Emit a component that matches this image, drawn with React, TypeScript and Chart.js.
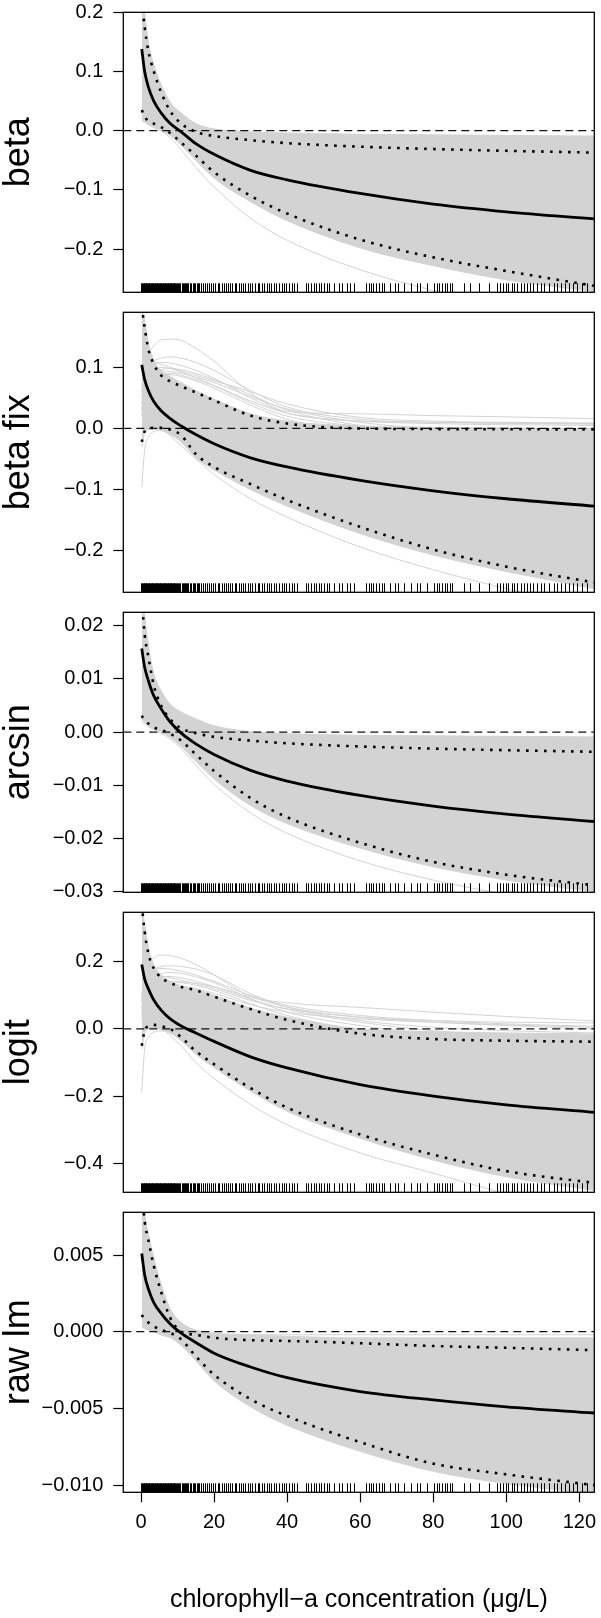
import React, { useEffect, useRef } from 'react';
import { Chart, registerables } from 'chart.js';

Chart.register(...registerables);

const FONT = "'Liberation Sans', Arial, Helvetica, sans-serif";
const GRAY = '#d3d3d3';

// x positions (chlorophyll-a, µg/L) at which every curve is read
const KNOTS = [0.2, 1, 2, 3.5, 5.5, 8, 11, 15, 20, 30, 40, 60, 80, 100, 124];
const X_MIN = -4.85;
const X_MAX = 124.1;
const X_TICKS = [0, 20, 40, 60, 80, 100, 120];

// rug: observed chlorophyll-a values
const RUG = [
  0.1, 0.3, 0.5, 0.7, 0.9, 1.1, 1.3, 1.5, 1.7, 1.9, 2.1, 2.3, 2.5, 2.7, 2.9, 3.1, 3.3, 3.5, 3.7, 3.9,
  4.1, 4.3, 4.5, 4.7, 4.9, 5.1, 5.3, 5.5, 5.7, 5.9, 6.1, 6.3, 6.5, 6.7, 6.9, 7.1, 7.3, 7.5, 7.7, 7.9,
  8.1, 8.3, 8.5, 8.7, 8.9, 9.1, 9.3, 9.6, 9.9, 10.2, 10.4, 10.8, 11.1, 11.5, 11.7, 12.0, 12.4, 12.6,
  13.0, 13.3, 13.7, 14.1, 14.5, 14.9, 15.2, 15.6, 16.0, 16.4, 17.0, 17.6, 18.1, 18.5, 19.2, 19.8,
  20.3, 21.0, 21.4, 22.1, 22.6, 23.3, 23.9, 24.4, 25.0, 25.7, 26.1, 26.8, 27.5, 28.0, 28.6, 29.3,
  29.9, 30.4, 31.2, 31.9, 32.3, 33.0, 33.8, 34.4, 35.1, 35.6, 36.4, 37.0, 37.7, 38.5, 39.2, 39.8,
  40.6, 41.3, 42.0, 42.6, 45.1, 45.8, 46.5, 47.3, 47.9, 48.6, 49.3, 50.0, 51.0, 51.4, 52.8, 54.2,
  55.0, 56.4, 57.1, 58.3, 61.5, 62.3, 63.0, 63.6, 64.4, 65.2, 66.0, 66.5, 68.1, 69.5, 70.4, 71.9,
  73.8, 75.6, 76.5, 78.3, 80.2, 80.9, 81.6, 82.3, 83.1, 83.8, 84.5, 85.2, 88.4, 90.2, 92.5, 95.2,
  97.5, 98.2, 99.1, 99.8, 100.6, 101.5, 102.2, 103.0, 103.9, 104.8, 105.7, 106.6, 107.4, 108.5,
  109.4, 110.3, 111.6, 113.0, 113.9, 115.0, 116.1, 117.2, 118.3, 119.4, 120.8, 122.2, 124.0,
];

// ---- beta ----
const BETA_MEAN = [0.138, 0.1, 0.074, 0.05, 0.03, 0.012, -0.002, -0.022, -0.04, -0.067, -0.083, -0.106, -0.124, -0.137, -0.149];
const BETA_UPPER = [0.22, 0.175, 0.135, 0.1, 0.065, 0.033, 0.012, -0.002, -0.009, -0.016, -0.021, -0.027, -0.031, -0.034, -0.037];
const BETA_LOWER = [0.035, 0.024, 0.016, 0.012, 0.006, -0.004, -0.02, -0.042, -0.07, -0.11, -0.14, -0.184, -0.214, -0.237, -0.262];
const BETA_BAND_HI = [0.25, 0.2, 0.15, 0.112, 0.078, 0.048, 0.03, 0.012, 0.003, -0.002, -0.004, -0.006, -0.007, -0.008, -0.009];
const BETA_BAND_LO = [0.018, 0.014, 0.01, 0.005, 0.0, -0.008, -0.025, -0.05, -0.08, -0.12, -0.152, -0.198, -0.228, -0.252, -0.272];
const BETA_GRAY_LINES = [
  [0.02, 0.016, 0.012, 0.006, 0.0, -0.012, -0.032, -0.062, -0.095, -0.148, -0.185, -0.235, -0.27, -0.3, -0.33],
];

// ---- beta fix ----
const BETAFIX_MEAN = [0.104, 0.08, 0.062, 0.044, 0.029, 0.016, 0.004, -0.01, -0.025, -0.048, -0.063, -0.085, -0.102, -0.115, -0.127];
const BETAFIX_UPPER = [0.2, 0.165, 0.13, 0.105, 0.087, 0.077, 0.069, 0.059, 0.046, 0.021, 0.008, 0.0, -0.001, -0.0013, -0.0016];
const BETAFIX_LOWER = [-0.022, -0.005, 0.0, 0.001, 0.001, -0.002, -0.011, -0.042, -0.063, -0.091, -0.117, -0.161, -0.198, -0.226, -0.252];
const BETAFIX_BAND_HI = [0.2, 0.175, 0.14, 0.112, 0.095, 0.085, 0.075, 0.062, 0.048, 0.024, 0.012, 0.004, 0.002, 0.001, 0.0];
const BETAFIX_BAND_LO = [-0.03, -0.008, -0.002, -0.001, -0.003, -0.01, -0.022, -0.048, -0.068, -0.1, -0.127, -0.172, -0.207, -0.234, -0.262];
const BETAFIX_GRAY_LINES = [
  [0.06, 0.1, 0.12, 0.135, 0.145, 0.146, 0.144, 0.131, 0.11, 0.058, 0.028, 0.024, 0.021, 0.019, 0.016],
  [0.03, 0.07, 0.095, 0.105, 0.108, 0.107, 0.103, 0.095, 0.082, 0.05, 0.025, 0.012, 0.008, 0.006, 0.005],
  [0.04, 0.075, 0.09, 0.098, 0.1, 0.098, 0.092, 0.083, 0.07, 0.042, 0.02, 0.004, -0.002, -0.006, -0.01],
  [0.02, 0.05, 0.07, 0.082, 0.088, 0.088, 0.085, 0.078, 0.066, 0.038, 0.015, -0.01, -0.025, -0.037, -0.048],
  [0.06, 0.08, 0.088, 0.092, 0.094, 0.093, 0.09, 0.084, 0.075, 0.052, 0.032, 0.01, 0.0, -0.004, -0.008],
  [0.05, 0.085, 0.1, 0.11, 0.115, 0.117, 0.115, 0.108, 0.095, 0.062, 0.035, 0.015, 0.01, 0.008, 0.007],
  [0.07, 0.095, 0.105, 0.108, 0.105, 0.1, 0.094, 0.087, 0.078, 0.06, 0.04, 0.018, 0.012, 0.01, 0.009],
  [0.03, 0.06, 0.078, 0.09, 0.096, 0.098, 0.096, 0.09, 0.08, 0.055, 0.03, 0.005, -0.005, -0.012, -0.018],
  [0.04, 0.065, 0.08, 0.087, 0.09, 0.09, 0.087, 0.08, 0.07, 0.045, 0.025, 0.012, 0.01, 0.009, 0.008],
  [-0.096, -0.035, -0.015, -0.005, -0.003, -0.008, -0.018, -0.035, -0.055, -0.085, -0.105, -0.14, -0.165, -0.185, -0.2],
  [0.03, 0.025, 0.02, 0.012, 0.003, -0.012, -0.028, -0.05, -0.075, -0.115, -0.145, -0.194, -0.231, -0.262, -0.295],
];

// ---- arcsin ----
const ARCSIN_MEAN = [0.0157, 0.0122, 0.0097, 0.0068, 0.0044, 0.0019, -0.0002, -0.0022, -0.0042, -0.0072, -0.0092, -0.0119, -0.0139, -0.0154, -0.0168];
const ARCSIN_UPPER = [0.025, 0.0183, 0.0142, 0.0088, 0.005, 0.0024, 0.0007, -0.0002, -0.0009, -0.0016, -0.0021, -0.0027, -0.0031, -0.0034, -0.0037];
const ARCSIN_LOWER = [0.0031, 0.0022, 0.0016, 0.0009, 0.0004, -0.0003, -0.0016, -0.0042, -0.0073, -0.0124, -0.016, -0.0208, -0.0244, -0.0268, -0.0288];
const ARCSIN_BAND_HI = [0.03, 0.022, 0.0165, 0.011, 0.0078, 0.0052, 0.0038, 0.0025, 0.0012, 0.0001, -0.0003, -0.0006, -0.0007, -0.0008, -0.0009];
const ARCSIN_BAND_LO = [0.0025, 0.0018, 0.0012, 0.0006, 0.0, -0.001, -0.0027, -0.0055, -0.0088, -0.0138, -0.0172, -0.0218, -0.0253, -0.0278, -0.03];
const ARCSIN_GRAY_LINES = [
  [0.002, 0.0015, 0.001, 0.0004, -0.0002, -0.0013, -0.0031, -0.0062, -0.0098, -0.0152, -0.019, -0.0242, -0.0278, -0.0305, -0.033],
];

// ---- logit ----
const LOGIT_MEAN = [0.192, 0.148, 0.12, 0.086, 0.056, 0.03, 0.009, -0.012, -0.037, -0.083, -0.116, -0.166, -0.2, -0.226, -0.248];
const LOGIT_UPPER = [0.37, 0.29, 0.225, 0.18, 0.153, 0.137, 0.125, 0.115, 0.096, 0.059, 0.027, -0.014, -0.03, -0.035, -0.038];
const LOGIT_LOWER = [-0.05, -0.005, 0.008, 0.012, 0.008, 0.0, -0.025, -0.066, -0.105, -0.176, -0.234, -0.314, -0.374, -0.423, -0.458];
const LOGIT_BAND_HI = [0.37, 0.31, 0.245, 0.19, 0.16, 0.142, 0.128, 0.118, 0.1, 0.062, 0.035, 0.0, -0.008, -0.012, -0.015];
const LOGIT_BAND_LO = [-0.06, -0.012, 0.0, 0.002, -0.002, -0.012, -0.035, -0.075, -0.115, -0.185, -0.245, -0.325, -0.39, -0.44, -0.48];
const LOGIT_GRAY_LINES = [
  [0.1, 0.16, 0.195, 0.212, 0.22, 0.218, 0.21, 0.192, 0.161, 0.097, 0.078, 0.064, 0.05, 0.037, 0.024],
  [0.09, 0.14, 0.165, 0.178, 0.185, 0.188, 0.186, 0.178, 0.16, 0.105, 0.065, 0.025, 0.005, -0.005, -0.012],
  [0.06, 0.11, 0.14, 0.157, 0.165, 0.168, 0.165, 0.155, 0.138, 0.09, 0.05, 0.01, -0.015, -0.03, -0.045],
  [0.05, 0.09, 0.115, 0.13, 0.138, 0.14, 0.138, 0.13, 0.115, 0.075, 0.04, -0.005, -0.04, -0.065, -0.09],
  [0.03, 0.07, 0.1, 0.118, 0.128, 0.13, 0.127, 0.12, 0.106, 0.072, 0.05, 0.03, 0.02, 0.012, 0.005],
  [0.08, 0.13, 0.16, 0.175, 0.18, 0.178, 0.172, 0.16, 0.142, 0.1, 0.07, 0.04, 0.025, 0.015, 0.008],
  [0.06, 0.1, 0.13, 0.148, 0.155, 0.156, 0.152, 0.142, 0.126, 0.088, 0.058, 0.02, -0.005, -0.02, -0.035],
  [0.1, 0.14, 0.155, 0.16, 0.158, 0.152, 0.145, 0.135, 0.12, 0.085, 0.06, 0.035, 0.02, 0.01, 0.0],
  [0.04, 0.08, 0.11, 0.125, 0.135, 0.14, 0.14, 0.136, 0.125, 0.095, 0.065, 0.035, 0.025, 0.02, 0.018],
  [-0.186, -0.06, -0.025, -0.01, -0.006, -0.012, -0.03, -0.06, -0.1, -0.16, -0.2, -0.26, -0.3, -0.33, -0.36],
  [0.05, 0.04, 0.03, 0.02, 0.005, -0.02, -0.05, -0.1, -0.147, -0.225, -0.285, -0.369, -0.429, -0.49, -0.55],
];

// ---- raw lm ----
const RAW_MEAN = [0.0051, 0.0037, 0.0028, 0.0019, 0.0012, 0.0005, -0.0001, -0.0007, -0.0014, -0.0023, -0.003, -0.0039, -0.00445, -0.0049, -0.0053];
const RAW_UPPER = [0.0095, 0.0072, 0.006, 0.0043, 0.0026, 0.0009, 0.0, -0.0002, -0.0004, -0.00055, -0.0006, -0.00075, -0.00093, -0.00105, -0.0012];
const RAW_LOWER = [0.0011, 0.0008, 0.0006, 0.00035, 0.00012, -0.00008, -0.0005, -0.0016, -0.0028, -0.0044, -0.0055, -0.0072, -0.0086, -0.0093, -0.01];
const RAW_BAND_HI = [0.0105, 0.0078, 0.0064, 0.0048, 0.0031, 0.0015, 0.0006, 0.0001, -0.0001, -0.0002, -0.0003, -0.0004, -0.0004, -0.0004, -0.0004];
const RAW_BAND_LO = [0.0003, 0.0002, 0.0001, 0.0, -0.0002, -0.0004, -0.0009, -0.0019, -0.0032, -0.0049, -0.0061, -0.0078, -0.0091, -0.0099, -0.0106];
const RAW_GRAY_LINES = [
  [0.0004, 0.0003, 0.0002, 0.0, -0.0002, -0.0003, -0.0003, -0.0002, -0.0002, -0.0002, -0.0002, -0.0002, -0.0002, -0.0002, -0.0002],
];

const PANELS = [
  { label: 'beta', yMin: -0.273, yMax: 0.2, yTicks: [-0.2, -0.1, 0, 0.1, 0.2], dec: 1,
    mean: BETA_MEAN, upper: BETA_UPPER, lower: BETA_LOWER, hi: BETA_BAND_HI, lo: BETA_BAND_LO, extra: BETA_GRAY_LINES },
  { label: 'beta fix', yMin: -0.268, yMax: 0.19, yTicks: [-0.2, -0.1, 0, 0.1], dec: 1,
    mean: BETAFIX_MEAN, upper: BETAFIX_UPPER, lower: BETAFIX_LOWER, hi: BETAFIX_BAND_HI, lo: BETAFIX_BAND_LO, extra: BETAFIX_GRAY_LINES },
  { label: 'arcsin', yMin: -0.03011, yMax: 0.02252, yTicks: [-0.03, -0.02, -0.01, 0, 0.01, 0.02], dec: 2,
    mean: ARCSIN_MEAN, upper: ARCSIN_UPPER, lower: ARCSIN_LOWER, hi: ARCSIN_BAND_HI, lo: ARCSIN_BAND_LO, extra: ARCSIN_GRAY_LINES },
  { label: 'logit', yMin: -0.486, yMax: 0.347, yTicks: [-0.4, -0.2, 0, 0.2], dec: 1,
    mean: LOGIT_MEAN, upper: LOGIT_UPPER, lower: LOGIT_LOWER, hi: LOGIT_BAND_HI, lo: LOGIT_BAND_LO, extra: LOGIT_GRAY_LINES },
  { label: 'raw lm', yMin: -0.010469, yMax: 0.007784, yTicks: [-0.01, -0.005, 0, 0.005], dec: 3,
    mean: RAW_MEAN, upper: RAW_UPPER, lower: RAW_LOWER, hi: RAW_BAND_HI, lo: RAW_BAND_LO, extra: RAW_GRAY_LINES },
];

const fmt = (v: number, d: number) => (Math.abs(v) < 1e-12 ? (0).toFixed(d) : v.toFixed(d).replace('-', '\u2212'));

const boxAndRug = {
  id: 'boxAndRug',
  afterDatasetsDraw(chart: any) {
    const { ctx, chartArea: a, scales } = chart;
    ctx.save();
    ctx.beginPath();
    ctx.rect(a.left, a.top, a.right - a.left, a.bottom - a.top);
    ctx.clip();
    ctx.strokeStyle = '#000';
    ctx.lineWidth = 1;
    ctx.beginPath();
    RUG.forEach((v) => {
      const px = Math.round(scales.x.getPixelForValue(v)) + 0.5;
      ctx.moveTo(px, a.bottom);
      ctx.lineTo(px, a.bottom - 9);
    });
    ctx.stroke();
    ctx.restore();
    ctx.save();
    ctx.strokeStyle = '#000';
    ctx.lineWidth = 1.3;
    ctx.strokeRect(a.left, a.top, a.right - a.left, a.bottom - a.top);
    ctx.restore();
  },
};

function Panel({ p, idx }: { p: any; idx: number }) {
  const ref = useRef<HTMLCanvasElement>(null);
  const isLast = idx === PANELS.length - 1;
  const top = isLast ? 1190 : 300 * idx - 10;
  const height = isLast ? 428 : 320;

  useEffect(() => {
    const pts = (arr: number[]) => KNOTS.map((x, i) => ({ x, y: arr[i] }));
    const base = { pointRadius: 0, cubicInterpolationMode: 'monotone', spanGaps: true };
    const datasets: any[] = [
      { ...base, data: pts(p.hi), borderColor: GRAY, backgroundColor: GRAY, borderWidth: 1, fill: '+1', order: 10 },
      { ...base, data: pts(p.lo), borderColor: GRAY, borderWidth: 1, fill: false, order: 10 },
      ...p.extra.map((arr: number[]) => ({ ...base, data: pts(arr), borderColor: GRAY, borderWidth: 1, fill: false, order: 9 })),
      { pointRadius: 0, data: [{ x: X_MIN, y: 0 }, { x: X_MAX, y: 0 }], borderColor: '#111', borderWidth: 1.3,
        borderDash: [8, 5], fill: false, tension: 0, order: 3 },
      { ...base, data: pts(p.upper), borderColor: '#000', borderWidth: 2.6, borderDash: [2.6, 6.4], borderCapStyle: 'butt', fill: false, order: 2 },
      { ...base, data: pts(p.lower), borderColor: '#000', borderWidth: 2.6, borderDash: [2.6, 6.4], borderCapStyle: 'butt', fill: false, order: 2 },
      { ...base, data: pts(p.mean), borderColor: '#000', borderWidth: 2.8, fill: false, order: 1 },
    ];

    const chart = new Chart(ref.current as HTMLCanvasElement, {
      type: 'line',
      data: { datasets },
      plugins: [boxAndRug],
      options: {
        animation: false,
        responsive: false,
        devicePixelRatio: 1,
        events: [],
        layout: { padding: { top: 22.3, bottom: isLast ? 0 : 17.7, left: 0, right: 6.7 } },
        plugins: { legend: { display: false }, tooltip: { enabled: false } },
        scales: {
          x: {
            type: 'linear',
            min: X_MIN,
            max: X_MAX,
            display: isLast,
            afterBuildTicks: (s: any) => { s.ticks = X_TICKS.map((v) => ({ value: v })); },
            afterFit: (s: any) => {
              if (isLast) s.height = 125.7; else s.height = 0;
              s.paddingLeft = 0; s.paddingRight = 0;
            },
            border: { display: false },
            grid: { display: true, drawOnChartArea: false, drawTicks: true, tickLength: 10, tickColor: '#000', tickWidth: 1.2 },
            ticks: { color: '#000', font: { family: FONT, size: 20 }, padding: 8, maxRotation: 0, autoSkip: false,
              callback: (v: any) => String(v) },
            title: { display: true, text: 'chlorophyll\u2212a concentration (\u03bcg/L)', color: '#000',
              font: { family: FONT, size: 25 }, padding: { top: 0, bottom: 3 } },
          },
          y: {
            type: 'linear',
            min: p.yMin,
            max: p.yMax,
            afterBuildTicks: (s: any) => { s.ticks = p.yTicks.map((v: number) => ({ value: v })); },
            afterFit: (s: any) => { s.width = 123.3; s.paddingTop = 0; s.paddingBottom = 0; },
            border: { display: false },
            grid: { display: true, drawOnChartArea: false, drawTicks: true, tickLength: 10, tickColor: '#000', tickWidth: 1.2 },
            ticks: { color: '#000', font: { family: FONT, size: 20 }, padding: 10, autoSkip: false,
              callback: (v: any) => fmt(Number(v), p.dec) },
            title: { display: true, text: p.label, color: '#000',
              font: { family: FONT, size: 36, lineHeight: 1 }, padding: { top: 1.2, bottom: 0 } },
          },
        },
      } as any,
    });
    return () => chart.destroy();
  }, []);

  return (
    <canvas
      ref={ref}
      width={601}
      height={height}
      style={{ position: 'absolute', left: 0, top, width: 601, height, display: 'block' }}
    />
  );
}

export default function App() {
  return (
    <div style={{ position: 'absolute', left: 0, top: 0, width: 601, height: 1618, background: '#fff', overflow: 'hidden' }}>
      {PANELS.map((p, i) => (
        <Panel key={p.label} p={p} idx={i} />
      ))}
    </div>
  );
}
